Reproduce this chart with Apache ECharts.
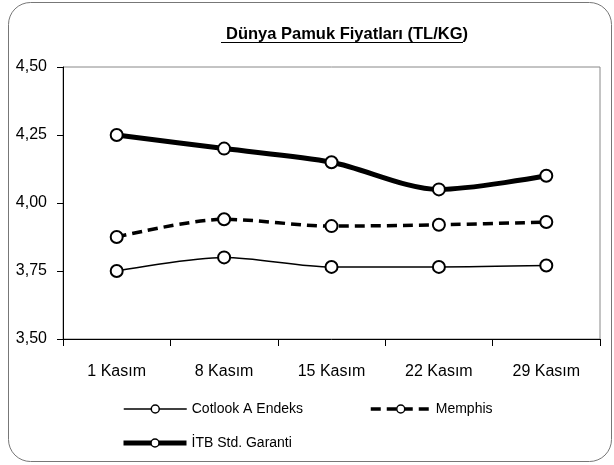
<!DOCTYPE html>
<html>
<head>
<meta charset="utf-8">
<script src="https://cdn.jsdelivr.net/npm/echarts@6/dist/echarts.min.js"></script>
<style>
  html, body { margin: 0; padding: 0; background: #fff; }
  #chart { width: 614px; height: 465px; }
</style>
</head>
<body>
<div id="chart"></div>
<script>
const categories = ['1 Kasım', '8 Kasım', '15 Kasım', '22 Kasım', '29 Kasım'];
const cotlook = [3.75, 3.80, 3.765, 3.765, 3.77];
const memphis = [3.875, 3.94, 3.915, 3.92, 3.93];
const itb = [4.25, 4.20, 4.15, 4.05, 4.10];
const yTicks = [3.50, 3.75, 4.00, 4.25, 4.50];

const font = '"Liberation Sans", Arial, sans-serif';
const chart = echarts.init(document.getElementById('chart'));

const marker = {
    symbol: 'circle',
    symbolSize: 12,
    itemStyle: { color: '#fff', borderColor: '#000', borderWidth: 2 }
};

const legendBase = {
    itemWidth: 63,
    itemHeight: 10,
    itemGap: 6,
    textStyle: { color: '#000', fontSize: 14, fontFamily: font },
    lineStyle: { width: 'inherit', type: 'inherit' },
    itemStyle: { borderWidth: 1.5 },
    selectedMode: false
};

const option = {
    animation: false,
    backgroundColor: '#fff',
    title: {
        text: 'Dünya Pamuk Fiyatları (TL/KG)',
        left: 342,
        textAlign: 'center',
        top: 21,
        textStyle: { fontSize: 16.5, fontWeight: 'bold', color: '#000', fontFamily: font }
    },
    graphic: [
        {
            type: 'rect',
            shape: { x: 8.5, y: 2.5, width: 603, height: 459, r: 22 },
            style: { fill: 'none', stroke: '#777', lineWidth: 1 },
            z: -1
        },
        {
            type: 'line',
            shape: { x1: 221, y1: 42.5, x2: 463, y2: 42.5 },
            style: { stroke: '#000', lineWidth: 1 }
        }
    ],
    grid: {
        left: 63, right: 14, top: 67, bottom: 126,
        show: true, borderColor: '#888', borderWidth: 1
    },
    legend: [
        Object.assign({}, legendBase, { data: ['Cotlook A Endeks'], left: 118, top: 397 }),
        Object.assign({}, legendBase, { data: ['Memphis'], left: 364, top: 397, itemWidth: 60, itemGap: 4 }),
        Object.assign({}, legendBase, { data: ['İTB Std. Garanti'], left: 116, top: 431 })
    ],
    xAxis: {
        type: 'category',
        data: categories,
        boundaryGap: true,
        axisLine: { lineStyle: { color: '#000', width: 1 } },
        axisTick: { show: true, length: 7, lineStyle: { color: '#000' } },
        axisLabel: { color: '#000', fontSize: 16, fontFamily: font, margin: 25 },
        splitLine: { show: false }
    },
    yAxis: {
        type: 'value',
        min: 3.5,
        max: 4.5,
        interval: 0.25,
        axisLine: { show: true, lineStyle: { color: '#000', width: 1 } },
        axisTick: { show: true, length: 6, lineStyle: { color: '#000' } },
        axisLabel: {
            color: '#000', fontSize: 16, fontFamily: font, margin: 16,
            formatter: v => yTicks.indexOf(v) >= 0 ? v.toFixed(2).replace('.', ',') : ''
        },
        splitLine: { show: false }
    },
    series: [
        Object.assign({
            name: 'Cotlook A Endeks', type: 'line', smooth: 0.3, data: cotlook,
            lineStyle: { color: '#000', width: 1.5 }
        }, marker),
        Object.assign({
            name: 'Memphis', type: 'line', smooth: 0.3, data: memphis,
            lineStyle: { color: '#000', width: 3.5, type: [10, 6] }
        }, marker),
        Object.assign({
            name: 'İTB Std. Garanti', type: 'line', smooth: 0.3, data: itb,
            lineStyle: { color: '#000', width: 5 }
        }, marker)
    ]
};

chart.setOption(option);
window.addEventListener('resize', () => {
    chart.resize();
});
</script>
</body>
</html>
